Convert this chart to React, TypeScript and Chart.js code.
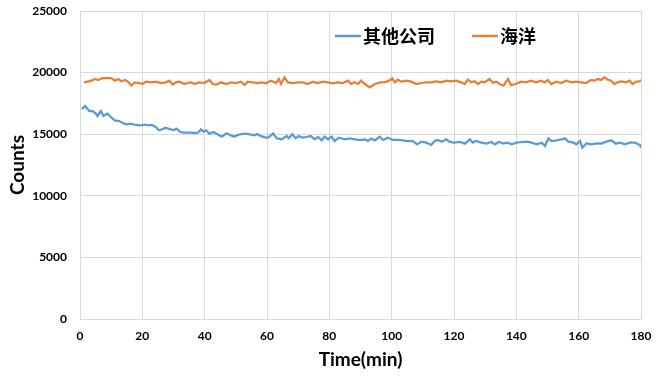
import React, { useEffect, useRef } from "react";
import { Chart, registerables } from "chart.js";

Chart.register(...registerables);

// Series labels
const seriesNames = ["其他公司", "海洋"];

// Blue series (其他公司): time (min) and counts
const otherTimes = [
  0.6, 1.6, 3.0, 4.0, 5.0, 5.6, 6.7, 7.5, 8.8, 9.9, 11.1, 12.5, 13.6, 14.6, 16.2, 17.8, 19.4, 21.0, 22.0, 23.0,
  24.3, 25.3, 26.4, 27.4, 29.0, 30.1, 31.0, 32.2, 33.2, 35.4, 37.0, 38.0, 38.8, 39.6, 40.5, 41.5, 42.8, 44.1, 45.5, 47.0,
  48.1, 49.4, 51.3, 52.9, 54.5, 56.1, 56.7, 58.3, 59.6, 60.4, 62.0, 63.1, 64.7, 66.3, 67.0, 68.1, 69.2, 70.2, 71.3, 72.7,
  74.0, 75.3, 76.4, 77.5, 78.5, 79.6, 80.7, 81.7, 83.0, 85.0, 86.6, 88.2, 89.8, 91.4, 92.4, 93.5, 94.6, 96.2, 97.2, 98.8,
  100.4, 102.0, 103.6, 105.2, 106.8, 108.2, 109.5, 111.1, 112.7, 113.8, 114.8, 116.1, 117.5, 118.5, 119.9, 121.9, 123.5, 125.1, 126.0, 127.0,
  128.8, 130.4, 132.0, 133.1, 134.5, 135.8, 137.1, 138.5, 140.1, 141.7, 143.3, 144.9, 146.5, 148.2, 149.2, 150.3, 151.3, 152.9, 154.5, 155.6,
  156.7, 158.3, 159.3, 160.4, 161.2, 162.5, 164.1, 165.7, 167.3, 168.9, 170.5, 171.9, 173.2, 174.8, 176.4, 178.0, 179.7, 180.0,
];
const otherCounts = [
  17019, 17289, 16883, 16883, 16694, 16478, 16883, 16478, 16667, 16396, 16126, 16072, 15936, 15801, 15855, 15747, 15720, 15774, 15720, 15747,
  15585, 15314, 15396, 15531, 15396, 15341, 15450, 15179, 15125, 15125, 15098, 15152, 15396, 15206, 15314, 15043, 15179, 14990, 14800, 15071,
  14935, 14800, 14990, 15043, 14990, 14908, 15016, 14827, 14719, 14719, 15070, 14665, 14584, 14854, 14665, 14990, 14665, 14854, 14719, 14773,
  14854, 14584, 14773, 14503, 14800, 14584, 14800, 14448, 14719, 14584, 14665, 14584, 14530, 14584, 14448, 14638, 14503, 14800, 14530, 14719,
  14530, 14530, 14503, 14448, 14448, 14178, 14394, 14313, 14124, 14448, 14530, 14394, 14584, 14394, 14313, 14367, 14232, 14584, 14313, 14448,
  14313, 14232, 14367, 14178, 14394, 14232, 14313, 14178, 14313, 14367, 14394, 14313, 14178, 14313, 14042, 14665, 14448, 14503, 14584, 14665,
  14394, 14313, 14178, 14448, 13907, 14259, 14178, 14259, 14232, 14394, 14503, 14232, 14313, 14178, 14313, 14313, 14124, 13880,
];

// Orange series (海洋): time (min) and counts
const oceanTimes = [
  1.3, 2.7, 3.7, 4.8, 5.9, 7.0, 8.6, 10.2, 11.2, 12.3, 13.3, 14.4, 15.4, 16.5, 17.5, 19.1, 20.1, 21.2, 22.8, 24.4,
  26.0, 27.6, 28.7, 29.7, 30.8, 31.9, 33.5, 34.5, 35.6, 36.7, 38.1, 39.9, 41.5, 42.6, 43.7, 45.3, 46.9, 48.5, 50.1, 51.7,
  52.8, 53.8, 55.4, 57.0, 58.1, 59.7, 61.3, 62.9, 63.8, 64.5, 65.6, 66.7, 68.3, 69.9, 71.5, 73.1, 74.7, 76.3, 77.9, 79.5,
  81.1, 82.7, 84.3, 86.0, 87.0, 88.1, 89.2, 90.2, 91.4, 93.0, 94.6, 96.2, 97.8, 99.2, 100.2, 101.0, 102.0, 103.1, 104.7, 106.3,
  107.9, 109.5, 111.1, 112.7, 114.3, 115.9, 117.5, 119.1, 120.7, 122.3, 123.4, 124.5, 125.5, 126.6, 127.7, 128.7, 129.8, 131.4, 132.5, 133.5,
  134.6, 135.9, 137.3, 138.3, 139.9, 141.5, 143.1, 144.7, 146.3, 148.0, 149.0, 150.1, 151.2, 152.8, 154.4, 156.0, 157.6, 159.2, 160.8, 162.4,
  164.0, 165.1, 166.1, 167.2, 168.3, 169.3, 170.4, 171.5, 172.5, 173.6, 175.2, 176.3, 177.3, 178.4, 179.5, 180.0,
];
const oceanCounts = [
  19210, 19292, 19346, 19481, 19400, 19535, 19562, 19535, 19346, 19481, 19292, 19400, 19264, 18940, 19210, 19156, 19075, 19264, 19210, 19264,
  19156, 19210, 19346, 19021, 19210, 19264, 19075, 19156, 19210, 19075, 19210, 19156, 19400, 19075, 19021, 19210, 19075, 19210, 19156, 19264,
  18994, 19264, 19210, 19156, 19210, 19129, 19346, 19156, 19481, 19075, 19616, 19210, 19156, 19210, 19210, 19075, 19264, 19156, 19264, 19210,
  19129, 19210, 19156, 19346, 19075, 19210, 19075, 19346, 19075, 18805, 19075, 19210, 19210, 19346, 19535, 19210, 19427, 19264, 19346, 19264,
  19075, 19156, 19210, 19210, 19292, 19210, 19346, 19292, 19346, 19210, 19075, 19427, 19210, 19292, 19075, 19264, 19210, 19481, 19156, 19264,
  19075, 18940, 19481, 18994, 19075, 19264, 19210, 19346, 19210, 19346, 19210, 19400, 19075, 19264, 19156, 19346, 19210, 19264, 19210, 19156,
  19400, 19346, 19481, 19400, 19616, 19427, 19346, 19075, 19210, 19292, 19210, 19346, 19075, 19264, 19292, 19400,
];

// Axis settings
const xMin = 0;
const xMax = 180;
const xStep = 20;
const yMin = 0;
const yMax = 25000;
const yStep = 5000;
const xTitle = "Time(min)";
const yTitle = "Counts";

const colors = ["#5b9bd5", "#ed7d31"];

const latin = "Lato, 'Liberation Sans', sans-serif";
const cjk = "'Noto Sans CJK SC', sans-serif";

const legendPlugin = {
  id: "insideLegend",
  afterDraw(chart: any) {
    const ctx = chart.ctx;
    const area = chart.chartArea;
    let x = area.left + 255;
    const y = area.top + 25;
    ctx.save();
    ctx.font = `bold 18px ${cjk}`;
    ctx.textBaseline = "middle";
    ctx.textAlign = "left";
    chart.data.datasets.forEach((ds: any) => {
      ctx.strokeStyle = ds.borderColor;
      ctx.lineWidth = 2.5;
      ctx.beginPath();
      ctx.moveTo(x, y);
      ctx.lineTo(x + 26, y);
      ctx.stroke();
      x += 28;
      ctx.fillStyle = "#000";
      ctx.fillText(ds.label, x, y);
      x += ctx.measureText(ds.label).width + 37;
    });
    ctx.restore();
  },
};

export default function App() {
  const ref = useRef<HTMLCanvasElement>(null);
  useEffect(() => {
    if (!ref.current) return;
    const chart = new Chart(ref.current, {
      type: "line",
      data: {
        datasets: [
          {
            label: seriesNames[0],
            data: otherTimes.map((t, i) => ({ x: t, y: otherCounts[i] })),
            borderColor: colors[0],
            backgroundColor: colors[0],
            borderWidth: 2.25,
            pointRadius: 0,
            tension: 0,
          },
          {
            label: seriesNames[1],
            data: oceanTimes.map((t, i) => ({ x: t, y: oceanCounts[i] })),
            borderColor: colors[1],
            backgroundColor: colors[1],
            borderWidth: 2.25,
            pointRadius: 0,
            tension: 0,
          },
        ],
      },
      options: {
        animation: false,
        responsive: true,
        maintainAspectRatio: false,
        layout: { padding: { left: 0, right: 21, top: 11, bottom: 0 } },
        plugins: {
          legend: { display: false },
          tooltip: { enabled: false },
        },
        scales: {
          x: {
            type: "linear",
            min: xMin,
            max: xMax,
            afterFit: (s: any) => {
              s.height = 63;
            },
            ticks: {
              stepSize: xStep,
              padding: 10,
              color: "#000",
              font: { family: latin, size: 12, weight: "bold" },
              maxRotation: 0,
              callback: (v: any) => String(v),
            },
            grid: { color: "#d9d9d9", lineWidth: 1, drawTicks: false },
            border: { color: "#d9d9d9" },
            title: {
              display: true,
              text: xTitle,
              color: "#000",
              font: { family: latin, size: 19, weight: "bold" },
              padding: { top: 0, bottom: 11 },
            },
          },
          y: {
            min: yMin,
            max: yMax,
            afterFit: (s: any) => {
              s.width = 80;
              s.paddingTop = 0;
              s.paddingBottom = 0;
            },
            ticks: {
              stepSize: yStep,
              padding: 13,
              color: "#000",
              font: { family: latin, size: 12, weight: "bold" },
              callback: (v: any) => String(v),
            },
            grid: { color: "#d9d9d9", lineWidth: 1, drawTicks: false },
            border: { color: "#d9d9d9" },
            title: {
              display: true,
              text: yTitle,
              color: "#000",
              font: { family: latin, size: 19, weight: "bold" },
              padding: { top: 6, bottom: 0 },
            },
          },
        },
      },
      plugins: [legendPlugin],
    });
    return () => chart.destroy();
  }, []);
  return (
    <div style={{ position: "absolute", left: 0, top: 0, width: 662, height: 382, background: "#fff" }}>
      <canvas ref={ref} />
    </div>
  );
}
